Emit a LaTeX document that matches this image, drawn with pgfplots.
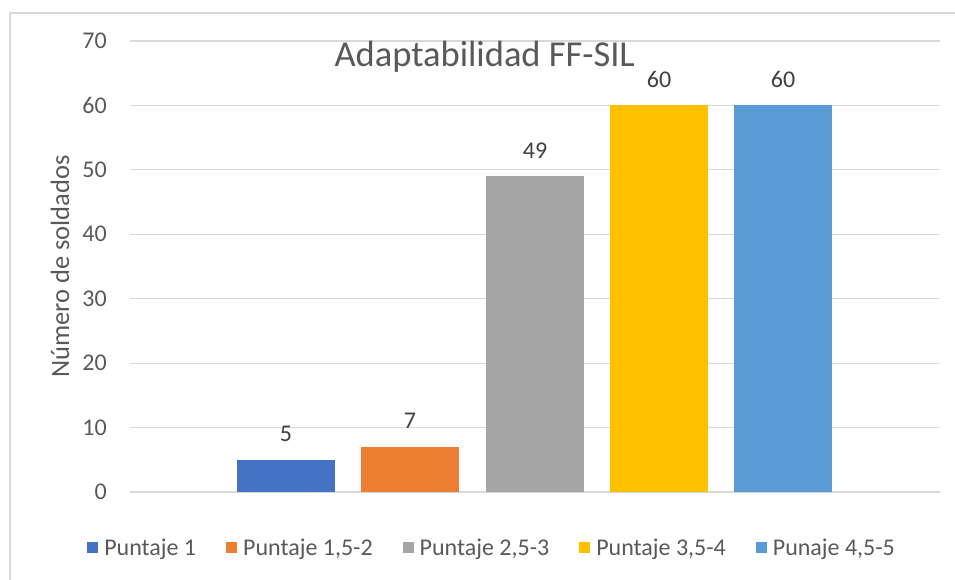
\documentclass[border=0pt]{standalone}
\usepackage{pgfplots}
\pgfplotsset{compat=1.18}
\usepackage{fontspec}
\setmainfont{Carlito}
\definecolor{txt}{HTML}{595959}
\definecolor{grd}{HTML}{D9D9D9}
\definecolor{c1}{HTML}{4472C4}
\definecolor{c2}{HTML}{ED7D31}
\definecolor{c3}{HTML}{A5A5A5}
\definecolor{c4}{HTML}{FFC000}
\definecolor{c5}{HTML}{5B9BD5}
\begin{document}
\begin{tikzpicture}[x=1bp,y=1bp]
\path[use as bounding box] (-130,-88) rectangle (825,492);
\draw[grd, line width=1.5bp] (-120,-88) -- (-120,479) -- (825,479);
\begin{axis}[
  at={(0,0)}, anchor=south west,
  scale only axis, width=810bp, height=451bp,
  xmin=0, xmax=810, ymin=0, ymax=70,
  ytick distance=10, xtick=\empty,
  ymajorgrids, grid style={grd, line width=1.2bp},
  axis line style={draw=none},
  major tick length=0pt,
  /pgf/number format/assume math mode=true,
  yticklabel style={font=\fontsize{24bp}{28bp}\selectfont, text=txt, inner sep=0pt, anchor=east, xshift=-23bp},
  ylabel={Número de soldados},
  every axis y label/.style={at={([xshift=-70bp]axis description cs:0,0.5)}, rotate=90, anchor=center, font=\fontsize{26.5bp}{30bp}\selectfont, text=txt},
  title={Adaptabilidad FF-SIL},
  title style={at={(axis description cs:0.438,0.931)}, anchor=base, font=\fontsize{36.5bp}{42bp}\selectfont, text=txt, inner sep=0pt},
  ybar, bar width=98bp,
  nodes near coords,
  every node near coord/.append style={font=\fontsize{24bp}{28bp}\selectfont, text=black!75, anchor=south, inner sep=0pt, yshift=18bp},
  legend columns=5,
  legend style={at={(-0.053,-0.124)}, anchor=west, draw=none, fill=none, inner sep=0pt,
    font=\fontsize{24bp}{28bp}\selectfont, text=txt,
    /tikz/every odd column/.append style={column sep=4bp},
    /tikz/every even column/.append style={column sep=28bp}},
  legend image code/.code={\fill[#1] (0bp,-5.5bp) rectangle (11bp,5.5bp);},
]
\addplot[fill=c1, draw=none, bar shift=0pt] coordinates {(156,5)};
\addlegendentry{Puntaje 1}
\addplot[fill=c2, draw=none, bar shift=0pt] coordinates {(280,7)};
\addlegendentry{Puntaje 1,5-2}
\addplot[fill=c3, draw=none, bar shift=0pt] coordinates {(405,49)};
\addlegendentry{Puntaje 2,5-3}
\addplot[fill=c4, draw=none, bar shift=0pt] coordinates {(529,60)};
\addlegendentry{Puntaje 3,5-4}
\addplot[fill=c5, draw=none, bar shift=0pt] coordinates {(653,60)};
\addlegendentry{Punaje 4,5-5}
\end{axis}
\end{tikzpicture}
\end{document}
